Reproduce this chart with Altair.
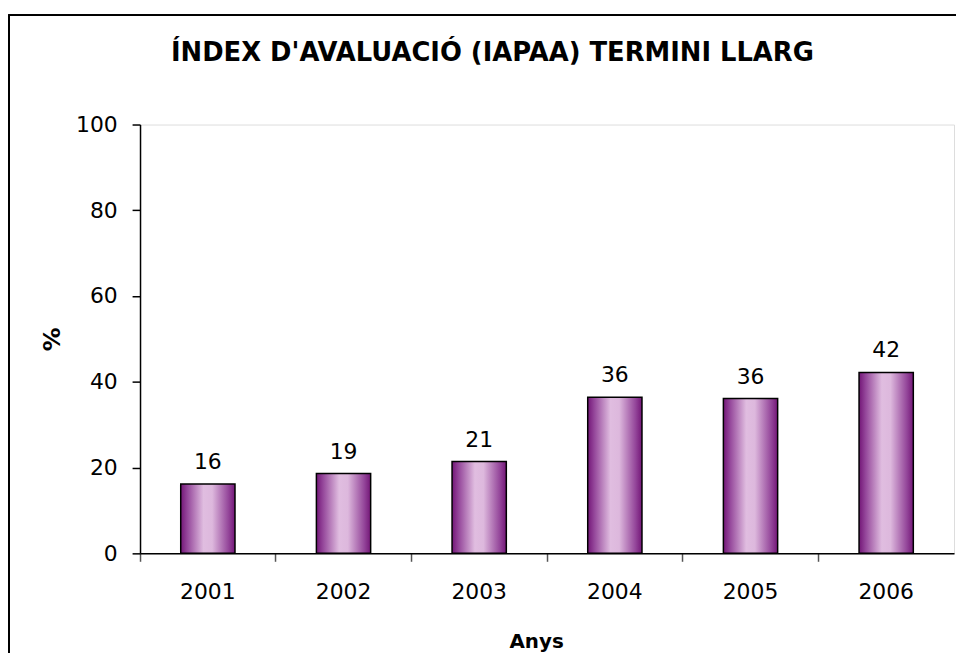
import altair as alt
import pandas as pd

years = ["2001", "2002", "2003", "2004", "2005", "2006"]
values = [16.2, 18.6, 21.4, 36.4, 36.1, 42.2]
y_ticks = [0, 20, 40, 60, 80, 100]
title_text = ["ÍNDEX D'AVALUACIÓ (IAPAA) TERMINI LLARG"]

df = pd.DataFrame({"Anys": years, "pct": values})
df_title = pd.DataFrame({"t": title_text})

FONT = "DejaVu Sans"
W = 820
H = 432

grad = alt.Gradient(
    gradient="linear",
    x1=0, x2=1, y1=0, y2=0,
    stops=[
        alt.GradientStop(offset=0.0, color="#731677"),
        alt.GradientStop(offset=0.12, color="#94469a"),
        alt.GradientStop(offset=0.42, color="#e0bde0"),
        alt.GradientStop(offset=0.58, color="#ddb8dd"),
        alt.GradientStop(offset=0.88, color="#94469a"),
        alt.GradientStop(offset=1.0, color="#731677"),
    ],
)

x_enc = alt.X(
    "Anys:N",
    sort=years,
    scale=alt.Scale(paddingInner=0, paddingOuter=0),
    axis=alt.Axis(
        title="Anys",
        labelAngle=0,
        labelFont=FONT,
        labelFontSize=22,
        labelColor="black",
        labelBaseline="alphabetic",
        labelPadding=37,
        tickSize=8,
        tickColor="#555555",
        tickWidth=1.5,
        bandPosition=0,
        domainColor="black",
        domainWidth=1.5,
        titleFont=FONT,
        titleFontSize=20,
        titleFontWeight="bold",
        titleColor="black",
        titleAlign="center",
        titleBaseline="alphabetic",
        titleX=399,
        titleY=95,
    ),
)

y_enc = alt.Y(
    "pct:Q",
    scale=alt.Scale(domain=[0, 100], nice=False),
    axis=alt.Axis(
        title="%",
        values=y_ticks,
        grid=False,
        labelFont=FONT,
        labelFontSize=22,
        labelColor="black",
        labelPadding=15,
        tickSize=8,
        tickColor="black",
        tickWidth=1.5,
        domainColor="black",
        domainWidth=1.5,
        titleFont=FONT,
        titleFontSize=24,
        titleFontWeight="bold",
        titleColor="black",
        titleAngle=-90,
        titleAlign="center",
        titleBaseline="middle",
        titleX=-88,
        titleY=216,
    ),
)

bars = alt.Chart(df).mark_bar(
    width=alt.RelativeBandSize(0.4),
    fill=grad,
    stroke="black",
    strokeWidth=1.5,
).encode(x=x_enc, y=y_enc)

labels = alt.Chart(df).mark_text(
    font=FONT,
    fontSize=22,
    color="black",
    baseline="alphabetic",
    dy=-15,
).encode(
    x=alt.X("Anys:N", sort=years),
    y="pct:Q",
    text=alt.Text("pct:Q", format=".0f"),
)

frame = alt.Chart(df).mark_rect(
    fill=None, stroke="black", strokeWidth=1.5, clip=False
).encode(
    x=alt.value(-132),
    x2=alt.value(950),
    y=alt.value(-110),
    y2=alt.value(700),
)

title = alt.Chart(df_title).mark_text(
    font=FONT,
    fontSize=26,
    fontWeight="bold",
    color="black",
    align="center",
    baseline="alphabetic",
).encode(
    x=alt.value(355),
    y=alt.value(-64),
    text="t:N",
)

chart = (
    alt.layer(frame, bars, labels, title)
    .properties(
        width=W,
        height=H,
        autosize=alt.AutoSizeParams(type="none"),
        padding={"left": 133, "top": 115, "right": 2, "bottom": 98},
    )
    .configure_view(stroke="#666666", strokeWidth=2, strokeOpacity=1)
    .configure(background="white")
)

chart.save("out.html", embed_options={"renderer": "svg", "actions": False})
